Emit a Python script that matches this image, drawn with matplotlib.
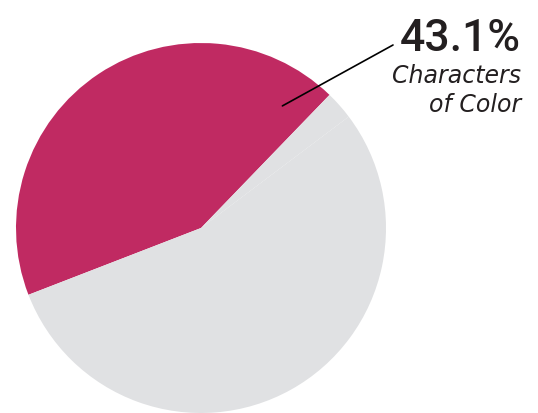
import matplotlib.pyplot as plt

# share of characters
labels = ["Characters of Color", "White characters", "Other (small)"]
values = [43.1, 54.4, 2.5]
colors = ["#C02A62", "#E0E1E3", "#E0E1E3"]

fig = plt.figure(figsize=(5.38, 4.13), dpi=100)
W, H = 538, 413

# pie centred at (201, 228) px with radius 185 px
cx, cy, r = 201, 228, 185
ax = fig.add_axes([(cx - r) / W, (H - cy - r) / H, 2 * r / W, 2 * r / H])
wedges, _ = ax.pie(values, colors=colors, startangle=46, counterclock=True,
                   wedgeprops=dict(linewidth=0))
ax.set_xlim(-1, 1)
ax.set_ylim(-1, 1)
ax.set_aspect("equal")
ax.axis("off")

# leader line from the magenta slice to the label
ax.annotate("", xy=(0.44, 0.66), xycoords="data",
            xytext=(393, H - 45), textcoords="figure pixels",
            arrowprops=dict(arrowstyle="-", color="black", lw=1.2,
                            shrinkA=0, shrinkB=0),
            annotation_clip=False)

fig.text(521 / W, 1 - 51 / H, "43.1%", ha="right", va="baseline",
         fontsize=32, fontweight="medium", fontstretch="condensed",
         color="#231F20", family=["Roboto", "DejaVu Sans"])
fig.text(521 / W, 1 - 83 / H, "Characters", ha="right", va="baseline",
         fontsize=17, style="italic", color="#231F20")
fig.text(521 / W, 1 - 112 / H, "of Color", ha="right", va="baseline",
         fontsize=17, style="italic", color="#231F20")

fig.savefig("out.png", dpi=100)
